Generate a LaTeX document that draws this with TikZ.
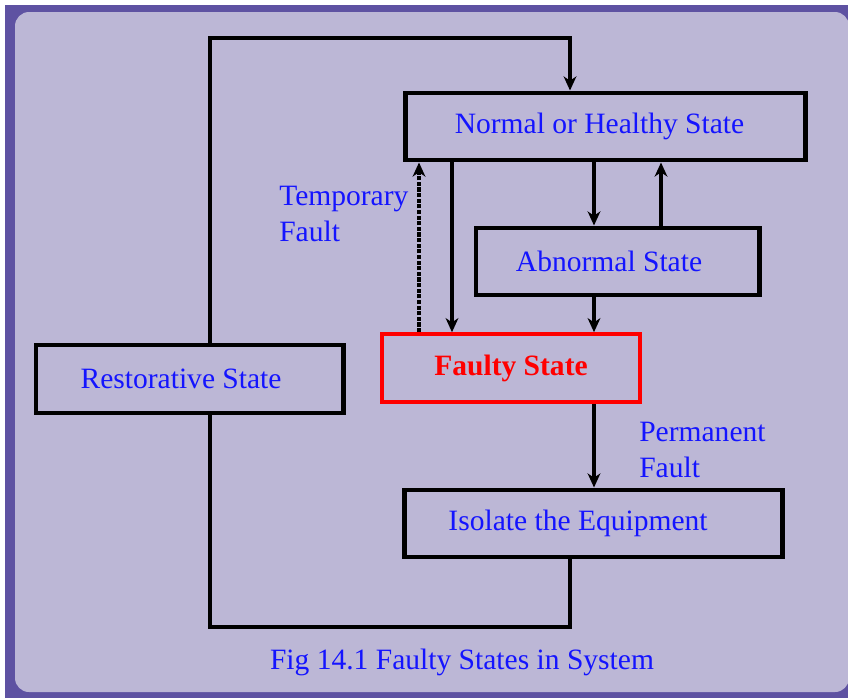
\documentclass[tikz,border=0pt]{standalone}
\usepackage{fontspec}
\setmainfont{Liberation Serif}
\usepackage{tikz}
\usepackage{xcolor}
\usetikzlibrary{arrows.meta,positioning}

\definecolor{framepurple}{RGB}{94,82,162}
\definecolor{panel}{RGB}{188,183,214}
\definecolor{labelblue}{RGB}{20,20,255}

\tikzset{
	statebox/.style={draw=black, line width=3.5pt, rectangle, inner sep=0pt,
		text=labelblue, font=\fontsize{21}{26}\selectfont},
	faultbox/.style={draw=red, line width=2.5pt, rectangle, inner sep=0pt,
		text=red, font=\fontsize{21}{26}\selectfont\bfseries},
	note/.style={text=labelblue, font=\fontsize{21}{26}\selectfont, align=left, inner sep=0pt},
	wire/.style={line width=3pt, black},
	arr/.style={wire, -{Stealth[length=10pt,width=9pt,inset=3pt]}},
}

\begin{document}
\begin{tikzpicture}[x=0.025cm, y=-0.025cm]
			\useasboundingbox (0,0) rectangle (848,698);
			\fill[white] (0,0) rectangle (848,698);
			\fill[framepurple] (5,5) rectangle (848,698);
			\fill[panel, rounded corners=10pt] (15,12) rectangle (849,692);

			% the states
			\node[statebox, minimum width=10cm, minimum height=1.675cm] (normal) at (605.5,126.5) {Normal or Healthy State\hspace*{8.5pt}};
			\node[statebox, minimum width=7.075cm, minimum height=1.675cm] (abnormal) at (617.5,261.5) {Abnormal State\hspace*{12pt}};
			\node[faultbox, minimum width=6.45cm, minimum height=1.7cm] (faulty) at (511,368) {Faulty State};
			\node[statebox, minimum width=7.675cm, minimum height=1.7cm] (restore) at (189.5,379) {Restorative State\hspace*{12pt}};
			\node[statebox, minimum width=9.425cm, minimum height=1.675cm] (isolate) at (593.5,523.5) {Isolate the Equipment\hspace*{22pt}};

			% columns of the vertical arrows
			\coordinate (colL) at (210,0);
			\coordinate (colR) at (570,0);
			\coordinate (colA) at (594,0);
			\coordinate (colB) at (661,0);
			\coordinate (colN) at (452,0);
			\coordinate (colT) at (419,0);
			\coordinate (topL) at (210,38);
			\coordinate (topR) at (570,38);
			\coordinate (botL) at (210,627);
			\coordinate (botR) at (570,627);

			\draw[arr] (colL |- restore.north) -- (topL) -- (topR) -- (colR |- normal.north);
			\draw[wire] (colR |- isolate.south) -- (botR) -- (botL) -- (colL |- restore.south);
			\draw[arr] (colA |- normal.south) -- (colA |- abnormal.north);
			\draw[arr] (colB |- abnormal.north) -- (colB |- normal.south);
			\draw[arr] (colN |- normal.south) -- (colN |- faulty.north);
			\draw[arr, densely dotted] (colT |- faulty.north) -- (colT |- normal.south);
			\draw[arr] (colA |- abnormal.south) -- (colA |- faulty.north);
			\draw[arr] (colA |- faulty.south) -- (colA |- isolate.north);

			% texts
			\node[note, anchor=west] (tempfault) at (279,214) {Temporary\\Fault};
			\node[note, anchor=west] (permfault) at (639,450) {Permanent\\Fault};
			\node[note] (caption) at (462,662) {Fig 14.1 Faulty States in System};
\end{tikzpicture}
\end{document}
